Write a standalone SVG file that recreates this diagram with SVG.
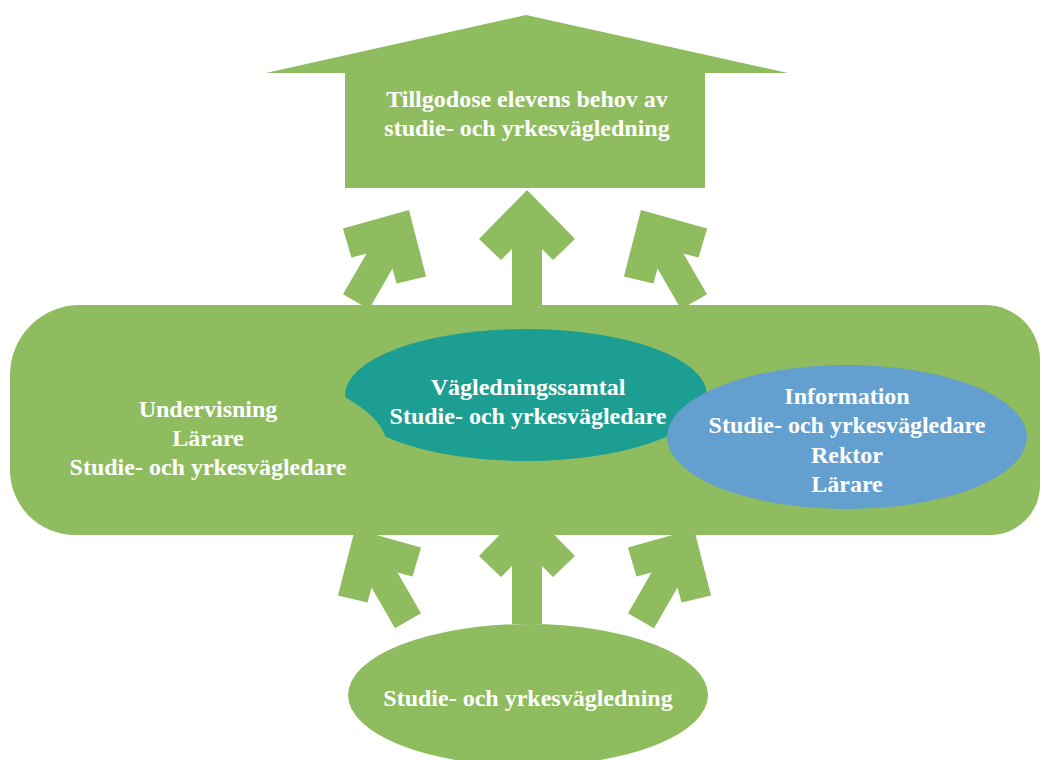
<svg xmlns="http://www.w3.org/2000/svg" xmlns:xlink="http://www.w3.org/1999/xlink" width="1042" height="760" viewBox="0 0 1042 760">
  <style>
    .g { fill: #8EBC5E; }
    .teal { fill: #1C9F92; }
    .blue { fill: #639FCF; }
    .t { font-family: "Liberation Serif", "Times New Roman", serif; font-weight: bold; font-size: 24px; fill: #FFFFFF; text-anchor: middle; }
  </style>
  <defs>
    <path id="arrowC" d="M0,0 L48,49 L26,70 L15,59 L15,117 L-15,117 L-15,59 L-26,70 L-48,49 Z"/>
    <path id="arrowS" d="M0,0 L48,49 L26,70 L15,59 L15,106 L-15,106 L-15,59 L-26,70 L-48,49 Z"/>
    <mask id="biteMask" maskUnits="userSpaceOnUse" x="0" y="0" width="1042" height="760">
      <rect x="0" y="0" width="1042" height="760" fill="#FFFFFF"/>
      <ellipse cx="205" cy="450" rx="183" ry="82" fill="#000000"/>
    </mask>
  </defs>

  <g id="connectors" class="g">
    <use xlink:href="#arrowC" href="#arrowC" transform="translate(527,190)"/>
    <use xlink:href="#arrowS" href="#arrowS" transform="translate(409,210) rotate(30)"/>
    <use xlink:href="#arrowS" href="#arrowS" transform="translate(641,210) rotate(-30)"/>
    <use xlink:href="#arrowC" href="#arrowC" transform="translate(527,507)"/>
    <use xlink:href="#arrowS" href="#arrowS" transform="translate(355,529) rotate(-30)"/>
    <use xlink:href="#arrowS" href="#arrowS" transform="translate(694,529) rotate(30)"/>
  </g>

  <g id="goal">
    <path class="g" d="M526,15 L788,73 L705,73 L705,188 L345,188 L345,73 L266,73 Z"/>
    <text class="t" x="527" y="107">Tillgodose elevens behov av</text>
    <text class="t" x="527" y="136">studie- och yrkesvägledning</text>
  </g>

  <g id="undervisning">
    <path class="g" d="M80,305 H985 A55,55 0 0 1 1040,360 V485 A50,50 0 0 1 990,535 H75 A65,65 0 0 1 10,470 V375 A70,70 0 0 1 80,305 Z"/>
    <text class="t" x="208" y="417">Undervisning</text>
    <text class="t" x="208" y="446">Lärare</text>
    <text class="t" x="208" y="475">Studie- och yrkesvägledare</text>
  </g>

  <g id="vagledningssamtal">
    <ellipse class="teal" cx="526" cy="395" rx="181" ry="66" mask="url(#biteMask)"/>
    <text class="t" x="528" y="395">Vägledningssamtal</text>
    <text class="t" x="528" y="424">Studie- och yrkesvägledare</text>
  </g>

  <g id="information">
    <ellipse class="blue" cx="847" cy="437" rx="180" ry="72"/>
    <text class="t" x="847" y="404">Information</text>
    <text class="t" x="847" y="433">Studie- och yrkesvägledare</text>
    <text class="t" x="847" y="463">Rektor</text>
    <text class="t" x="847" y="492">Lärare</text>
  </g>

  <g id="studievagledning">
    <ellipse class="g" cx="528" cy="695" rx="180" ry="71"/>
    <text class="t" x="528" y="706">Studie- och yrkesvägledning</text>
  </g>
</svg>
